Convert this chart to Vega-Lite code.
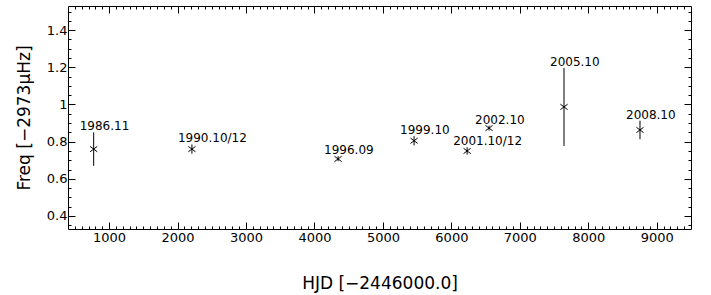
{
  "$schema": "https://vega.github.io/schema/vega-lite/v6.json",
  "width": 623,
  "height": 223,
  "autosize": {"type": "none"},
  "padding": {"left": 68, "top": 6, "right": 20, "bottom": 66},
  "background": "white",
  "config": {
    "view": {"stroke": "black", "strokeWidth": 1},
    "axis": {
      "grid": false,
      "domain": false,
      "tickColor": "black",
      "tickWidth": 1,
      "labelColor": "black",
      "labelFont": "DejaVu Sans",
      "labelFontSize": 13,
      "titleColor": "black",
      "titleFont": "DejaVu Sans",
      "titleFontWeight": "normal"
    },
    "text": {"font": "DejaVu Sans"}
  },
  "data": {
    "values": [
      {"hjd": 775, "freq": 0.76, "lo": 0.67, "hi": 0.85, "label": "1986.11"},
      {"hjd": 2210, "freq": 0.76, "lo": 0.735, "hi": 0.785, "label": "1990.10/12"},
      {"hjd": 4345, "freq": 0.707, "lo": 0.695, "hi": 0.722, "label": "1996.09"},
      {"hjd": 5455, "freq": 0.805, "lo": 0.78, "hi": 0.83, "label": "1999.10"},
      {"hjd": 6230, "freq": 0.75, "lo": 0.73, "hi": 0.77, "label": "2001.10/12"},
      {"hjd": 6550, "freq": 0.873, "lo": 0.86, "hi": 0.886, "label": "2002.10"},
      {"hjd": 7645, "freq": 0.987, "lo": 0.777, "hi": 1.197, "label": "2005.10"},
      {"hjd": 8755, "freq": 0.863, "lo": 0.813, "hi": 0.913, "label": "2008.10"}
    ]
  },
  "resolve": {"scale": {"x": "shared", "y": "shared"}, "axis": {"x": "independent", "y": "independent"}},
  "layer": [
    {
      "mark": {"type": "rule", "color": "black", "strokeWidth": 1},
      "encoding": {
        "x": {
          "field": "hjd", "type": "quantitative",
          "scale": {"domain": [400, 9500], "nice": false, "zero": false},
          "axis": {
            "orient": "bottom",
            "values": [1000, 2000, 3000, 4000, 5000, 6000, 7000, 8000, 9000],
            "tickSize": -7,
            "labelPadding": 9,
            "format": "d",
            "title": "HJD [−2446000.0]",
            "titleFontSize": 17,
            "titleBaseline": "alphabetic",
            "titleY": 59
          }
        },
        "y": {
          "field": "lo", "type": "quantitative",
          "scale": {"domain": [0.33, 1.53], "nice": false, "zero": false},
          "axis": {
            "orient": "left",
            "values": [0.4, 0.6, 0.8, 1, 1.2, 1.4],
            "format": "~g",
            "tickSize": -7,
            "labelPadding": 8,
            "title": "Freq [−2973μHz]",
            "titleFontSize": 17,
            "titleBaseline": "alphabetic",
            "titleX": -39,
            "titleAnchor": "middle"
          }
        },
        "y2": {"field": "hi"}
      }
    },
    {
      "mark": {"type": "point", "shape": "M-0.8,-0.6L0.8,0.6M-0.8,0.6L0.8,-0.6", "size": 80, "color": "black", "filled": false, "strokeWidth": 1, "opacity": 1},
      "encoding": {
        "x": {
          "field": "hjd", "type": "quantitative",
          "scale": {"domain": [400, 9500], "nice": false, "zero": false},
          "axis": {
            "orient": "bottom",
            "values": [500,600,700,800,900,1100,1200,1300,1400,1500,1600,1700,1800,1900,2100,2200,2300,2400,2500,2600,2700,2800,2900,3100,3200,3300,3400,3500,3600,3700,3800,3900,4100,4200,4300,4400,4500,4600,4700,4800,4900,5100,5200,5300,5400,5500,5600,5700,5800,5900,6100,6200,6300,6400,6500,6600,6700,6800,6900,7100,7200,7300,7400,7500,7600,7700,7800,7900,8100,8200,8300,8400,8500,8600,8700,8800,8900,9100,9200,9300,9400],
            "tickSize": -3,
            "labels": false,
            "title": null
          }
        },
        "y": {
          "field": "freq", "type": "quantitative",
          "scale": {"domain": [0.33, 1.53], "nice": false, "zero": false},
          "axis": {
            "orient": "left",
            "values": [0.35,0.45,0.5,0.55,0.65,0.7,0.75,0.85,0.9,0.95,1.05,1.1,1.15,1.25,1.3,1.35,1.45,1.5],
            "tickSize": -3,
            "labels": false,
            "title": null
          }
        }
      }
    },
    {
      "mark": {"type": "text", "align": "left", "baseline": "alphabetic", "dx": -14, "dy": -2, "fontSize": 12, "color": "black"},
      "encoding": {
        "x": {
          "field": "hjd", "type": "quantitative",
          "scale": {"domain": [400, 9500], "nice": false, "zero": false},
          "axis": {
            "orient": "top",
            "values": [1000, 2000, 3000, 4000, 5000, 6000, 7000, 8000, 9000],
            "tickSize": -7,
            "labels": false,
            "title": null
          }
        },
        "y": {
          "field": "hi", "type": "quantitative",
          "scale": {"domain": [0.33, 1.53], "nice": false, "zero": false},
          "axis": {
            "orient": "right",
            "values": [0.4, 0.6, 0.8, 1, 1.2, 1.4],
            "tickSize": -7,
            "labels": false,
            "title": null
          }
        },
        "text": {"field": "label", "type": "nominal"}
      }
    },
    {
      "mark": {"type": "point", "opacity": 0},
      "encoding": {
        "x": {
          "field": "hjd", "type": "quantitative",
          "scale": {"domain": [400, 9500], "nice": false, "zero": false},
          "axis": {
            "orient": "top",
            "values": [500,600,700,800,900,1100,1200,1300,1400,1500,1600,1700,1800,1900,2100,2200,2300,2400,2500,2600,2700,2800,2900,3100,3200,3300,3400,3500,3600,3700,3800,3900,4100,4200,4300,4400,4500,4600,4700,4800,4900,5100,5200,5300,5400,5500,5600,5700,5800,5900,6100,6200,6300,6400,6500,6600,6700,6800,6900,7100,7200,7300,7400,7500,7600,7700,7800,7900,8100,8200,8300,8400,8500,8600,8700,8800,8900,9100,9200,9300,9400],
            "tickSize": -3,
            "labels": false,
            "title": null
          }
        },
        "y": {
          "field": "freq", "type": "quantitative",
          "scale": {"domain": [0.33, 1.53], "nice": false, "zero": false},
          "axis": {
            "orient": "right",
            "values": [0.35,0.45,0.5,0.55,0.65,0.7,0.75,0.85,0.9,0.95,1.05,1.1,1.15,1.25,1.3,1.35,1.45,1.5],
            "tickSize": -3,
            "labels": false,
            "title": null
          }
        }
      }
    }
  ]
}
